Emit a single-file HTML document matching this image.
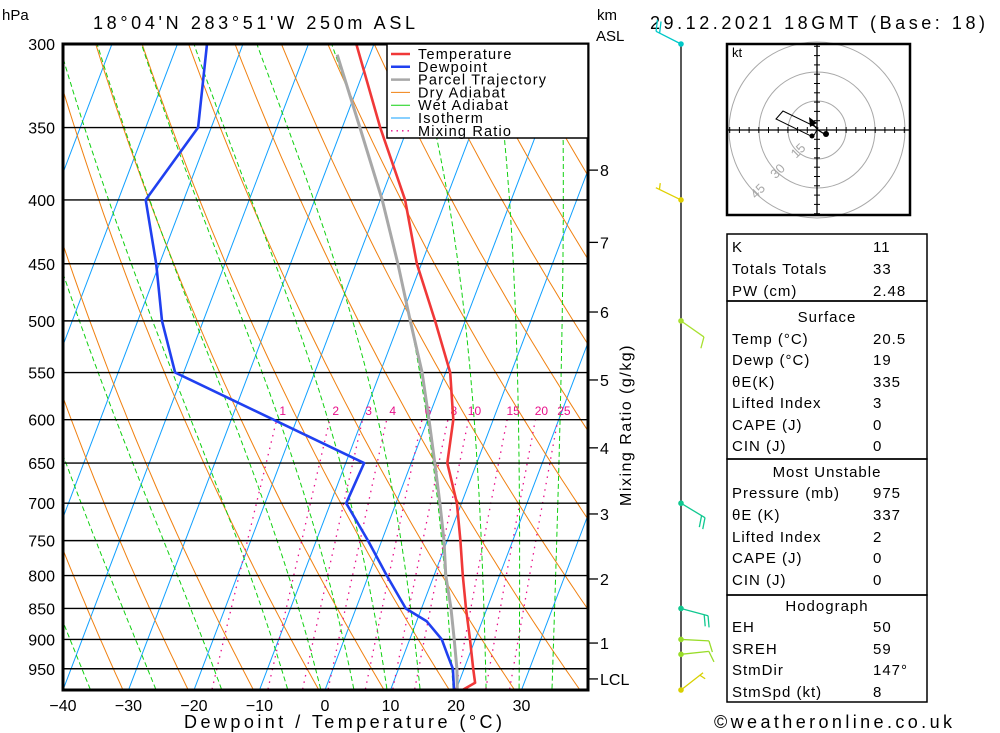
<!DOCTYPE html>
<html><head><meta charset="utf-8"><style>
html,body{margin:0;padding:0;background:#fff}
svg{display:block;font-family:"Liberation Sans",sans-serif}
</style></head><body>
<svg id="c" width="1000" height="733" viewBox="0 0 1000 733">
<defs><clipPath id="pc"><rect x="63" y="44" width="525" height="646"/></clipPath></defs>
<g id="bg" clip-path="url(#pc)"></g>
<g id="series" clip-path="url(#pc)"></g>
<g id="axes"></g>
</svg>
<script>
// ---- data ----
const tempP = [300,350,400,450,500,550,600,650,700,750,800,850,900,950,975,988];
const tempC = [-32.7,-24.2,-16.2,-10.7,-4.6,0.7,3.9,5.5,9.3,12,14.4,16.8,19.2,21.4,22.5,21.0];
const dewP = [300,350,400,450,500,550,650,700,750,800,850,870,900,925,950,988];
const dewC = [-55.5,-52,-55.8,-50.5,-46.3,-41.3,-7.2,-7.6,-2.1,2.8,7.6,11.5,14.9,16.6,18.3,19.7];
const parcelP = [306,350,400,450,500,550,600,650,700,750,800,850,900,950,988];
const parcelC = [-35,-27.3,-19.7,-13.6,-8.4,-3.6,0.2,3.6,6.7,9.5,11.8,14.5,16.8,18.9,20.2];
const isobars = [300,350,400,450,500,550,600,650,700,750,800,850,900,950];
const xTicks = [-40,-30,-20,-10,0,10,20,30];
const mixRatios = [1,2,3,4,6,8,10,15,20,25];
const wetStarts = [-35,-25,-15,-5,0,5,10,15,20,25,30,35];
const kmLabels = ['8','7','6','5','4','3','2','1','LCL'];
const kmPres = [378.6,432.6,491.9,557.6,632,714,805,906,968];
const barbP = [300,400,500,700,850,900,925,988];
const barbDir = [297,296,125,121,105,93,84,52];
const barbSpd = [20,5,10,20,20,10,10,5];
const barbCol = ['#00c8c8','#e0d000','#a8e030','#10c890','#10c890','#98dc28','#98dc28','#d8d000'];
const tblRows = [
 ['K','11',246],['Totals Totals','33',268],['PW (cm)','2.48',290],
 ['Surface','',316],['Temp (°C)','20.5',338],['Dewp (°C)','19',359],['θE(K)','335',381],['Lifted Index','3',402],['CAPE (J)','0',424],['CIN (J)','0',445],
 ['Most Unstable','',471],['Pressure (mb)','975',492],['θE (K)','337',514],['Lifted Index','2',536],['CAPE (J)','0',557],['CIN (J)','0',579],
 ['Hodograph','',605],['EH','50',626],['SREH','59',648],['StmDir','147°',669],['StmSpd (kt)','8',691]];
// ---- scales ----
const NS='http://www.w3.org/2000/svg';
function Y(p){return 44+542*Math.log(p/300);}
function X(T,p){return 63+(T+40)*6.55+(690-Y(p))*0.38;}
function mk(tag,attrs,parent){const e=document.createElementNS(NS,tag);for(const k in attrs)e.setAttribute(k,attrs[k]);parent.appendChild(e);return e;}
const bg=document.getElementById('bg'),se=document.getElementById('series'),ax=document.getElementById('axes'),svg=document.getElementById('c');
function pathFrom(pts){return pts.map((q,i)=>(i?'L':'M')+q[0].toFixed(1)+','+q[1].toFixed(1)).join('');}
// isotherms
for(let T=-130;T<=50;T+=10){
 const e=mk('line',{x1:X(T,1000),y1:Y(1000),x2:X(T,250),y2:Y(250),stroke:'#10a0ff','stroke-width':1},bg);
 
 
}
// dry adiabats
for(let th=193.15;th<=473.15;th+=10){
 const pts=[];for(let p=1010;p>=280;p-=10){pts.push([X(th*Math.pow(p/1000,0.286)-273.15,p),Y(p)]);}
 const e=mk('path',{d:pathFrom(pts),fill:'none',stroke:'#f08010','stroke-width':1},bg);
 
 
}
// wet adiabats
function es(T){return 6.112*Math.exp(17.67*T/(T+243.5));}
wetStarts.forEach(T0=>{
 let T=T0+273.15;const pts=[[X(T0,1000),Y(1000)]];
 for(let p=1000;p>280;p-=2){
  const e=es(T-273.15),rs=0.622*e/(p-e);
  const num=287*T+2.5e6*rs, den=1004+2.5e6*2.5e6*rs*0.622/(287*T*T);
  T-= (num/den)/p*2; pts.push([X(T-273.15,p-2),Y(p-2)]);
 }
 const e=mk('path',{d:pathFrom(pts),fill:'none',stroke:'#10d010','stroke-width':1,'stroke-dasharray':'5 3'},bg);
 
 
});
// mixing ratio
mixRatios.forEach(w=>{
 const pts=[];
 for(let p=1010;p>=600;p-=10){const e=w*p/(622+w),l=Math.log(e/6.112),T=243.5*l/(17.67-l);pts.push([X(T,p),Y(p)]);}
 const e=mk('path',{d:pathFrom(pts),fill:'none',stroke:'#e8108a','stroke-width':1.3,'stroke-dasharray':'1.5 5'},bg);
 
 
 const t=mk('text',{x:pts[pts.length-1][0]+6,y:415,'font-size':12,fill:'#e8108a','text-anchor':'middle'},bg);t.textContent=w;
 
 
});
// isobars
isobars.forEach(p=>{
 const e=mk('line',{x1:63,x2:588,y1:Y(p),y2:Y(p),stroke:'#000','stroke-width':1.4},bg);
 
 
 const t=mk('text',{x:55,y:Y(p)+6,'font-size':16,'text-anchor':'end',fill:'#000'},ax);t.textContent=p;
 
 
});
// series
function line(P,V,col,w,name){const e=mk('path',{d:pathFrom(P.map((p,i)=>[X(V[i],p),Y(p)])),fill:'none',stroke:col,'stroke-width':w,'stroke-linejoin':'round'},se);
 
 }
line(parcelP,parcelC,'#a8a8a8',3,'parcel-trajectory-line');
line(dewP,dewC,'#2040f0',2.6,'dewpoint-line');
line(tempP,tempC,'#f03838',2.6,'temperature-line');
// frame
const fr=mk('rect',{x:63,y:44,width:525,height:646,fill:'none',stroke:'#000','stroke-width':3},ax);


xTicks.forEach(T=>{const t=mk('text',{x:63+(T+40)*6.55,y:711,'font-size':16,'text-anchor':'middle'},ax);t.textContent=(T<0?'\u2212'+(-T):T);
 
 });
// km axis
kmPres.forEach((p,i)=>{mk('line',{x1:588,x2:598,y1:Y(p),y2:Y(p),stroke:'#000','stroke-width':1.3},ax);
 const t=mk('text',{x:600,y:Y(p)+6,'font-size':16},ax);t.textContent=kmLabels[i];
 
 });
// legend
const lg=mk('g',{},ax);
mk('rect',{x:387,y:44,width:201,height:94,fill:'#fff',stroke:'#000','stroke-width':1.5},lg);
[['Temperature','#f03838',2.5,''],['Dewpoint','#2040f0',2.5,''],['Parcel Trajectory','#a8a8a8',2.5,''],['Dry Adiabat','#f08010',1,''],['Wet Adiabat','#10d010',1,''],['Isotherm','#10a0ff',1,''],['Mixing Ratio','#e8108a',1.3,'1.5 4']].forEach((r,i)=>{
 const yy=54+i*12.8;mk('line',{x1:391,x2:410,y1:yy,y2:yy,stroke:r[1],'stroke-width':r[2],'stroke-dasharray':r[3]},lg);
 const t=mk('text',{x:418,y:yy+5,'font-size':14.5,'letter-spacing':'1.2'},lg);t.textContent=r[0];
 
 });
// texts
function txt(s,x,y,fs,extra){const t=mk('text',Object.assign({x:x,y:y,'font-size':fs},extra||{}),ax);t.textContent=s;return t;}
let t;
t=txt('hPa',2,20,15);
t=txt("18°04'N  283°51'W  250m  ASL",93,29,18,{textLength:322});
t=txt('29.12.2021  18GMT  (Base: 18)',650,29,18,{textLength:335});
t=txt('km',597,20,15);
t=txt('ASL',596,41,15);
t=txt('Dewpoint / Temperature (°C)',343,728,18,{'text-anchor':'middle',textLength:318});
t=txt('©weatheronline.co.uk',714,728,18,{textLength:238});
t=txt('Mixing Ratio (g/kg)',0,0,16,{transform:'translate(631,425) rotate(-90)','text-anchor':'middle','letter-spacing':'1.5'});
// wind barbs
const wb=mk('g',{},ax);
mk('line',{x1:681,x2:681,y1:44,y2:690,stroke:'#000','stroke-width':1.3},wb);
barbP.forEach((p,i)=>{
 const y0=Y(Math.min(p,989)),a=barbDir[i]*Math.PI/180,dx=Math.sin(a),dy=-Math.cos(a),L=28,c=barbCol[i];
 const ex=681+dx*L,ey=y0+dy*L;
 const g=mk('g',{stroke:c,'stroke-width':1.3,fill:'none'},wb);
 
 
 mk('line',{x1:681,y1:y0,x2:ex,y2:ey},g);
 let s=barbSpd[i],k=0;
 const px=-dy,py=dx;
 while(s>=10){const bx=ex-dx*k*4,by=ey-dy*k*4;mk('line',{x1:bx,y1:by,x2:bx+px*11+dx*4,y2:by+py*11+dy*4},g);s-=10;k++;}
 if(s>=5){const bx=ex-dx*(k*4+(k?0:4)),by=ey-dy*(k*4+(k?0:4));mk('line',{x1:bx,y1:by,x2:bx+px*6+dx*2,y2:by+py*6+dy*2},g);}
 mk('circle',{cx:681,cy:y0,r:2.8,fill:c,stroke:'none'},g);
});
// hodograph
const hg=mk('g',{},ax);
const cx=817,cy=130;
[29,58,88].forEach(r=>mk('circle',{cx:cx,cy:cy,r:r,fill:'none',stroke:'#a8a8a8','stroke-width':1},hg));
mk('line',{x1:727,x2:910,y1:cy,y2:cy,stroke:'#000','stroke-width':1.3},hg);
mk('line',{x1:cx,x2:cx,y1:44,y2:215,stroke:'#000','stroke-width':1.3},hg);
for(let k=-9;k<=9;k++){if(!k)continue;mk('line',{x1:cx+k*9.7,x2:cx+k*9.7,y1:cy-3,y2:cy+3,stroke:'#000'},hg);mk('line',{x1:cx-3,x2:cx+3,y1:cy+k*9.3,y2:cy+k*9.3,stroke:'#000'},hg);}
[['15',28],['30',57],['45',85]].forEach(r=>{const t2=mk('text',{x:0,y:0,'font-size':13,fill:'#a8a8a8','text-anchor':'middle',transform:`translate(${cx-r[1]*0.707+4},${cy+r[1]*0.707+4}) rotate(-45)`},hg);t2.textContent=r[0];});
mk('polygon',{points:'783,111 776,119 813,137 818,128',fill:'none',stroke:'#000','stroke-width':1},hg);
mk('polyline',{points:'811,122 818,130 826,135',fill:'none',stroke:'#000','stroke-width':1.3},hg);
mk('polygon',{points:'809,117 817,123 810,127',fill:'#000'},hg);
mk('circle',{cx:812,cy:136,r:2.5,fill:'#000'},hg);mk('circle',{cx:826,cy:134,r:3,fill:'#000'},hg);
mk('rect',{x:727,y:44,width:183,height:171,fill:'none',stroke:'#000','stroke-width':2.5},hg);
t=mk('text',{x:732,y:57,'font-size':13},hg);t.textContent='kt';
// table
const tb=mk('g',{},ax);
[[234,301],[301,459],[459,595],[595,702]].forEach(b=>mk('rect',{x:727,y:b[0],width:200,height:b[1]-b[0],fill:'none',stroke:'#000','stroke-width':1.5},tb));
tblRows.forEach(r=>{
 if(r[1]===''){const t3=mk('text',{x:827,y:r[2]+6,'font-size':15,'text-anchor':'middle','letter-spacing':'1'},tb);t3.textContent=r[0];
  
  }
 else{const t3=mk('text',{x:732,y:r[2]+6,'font-size':15,'letter-spacing':'1'},tb);t3.textContent=r[0];
  
  
  const t4=mk('text',{x:873,y:r[2]+6,'font-size':15,'letter-spacing':'1'},tb);t4.textContent=r[1];
  
  }
});
</script>
</body></html>
